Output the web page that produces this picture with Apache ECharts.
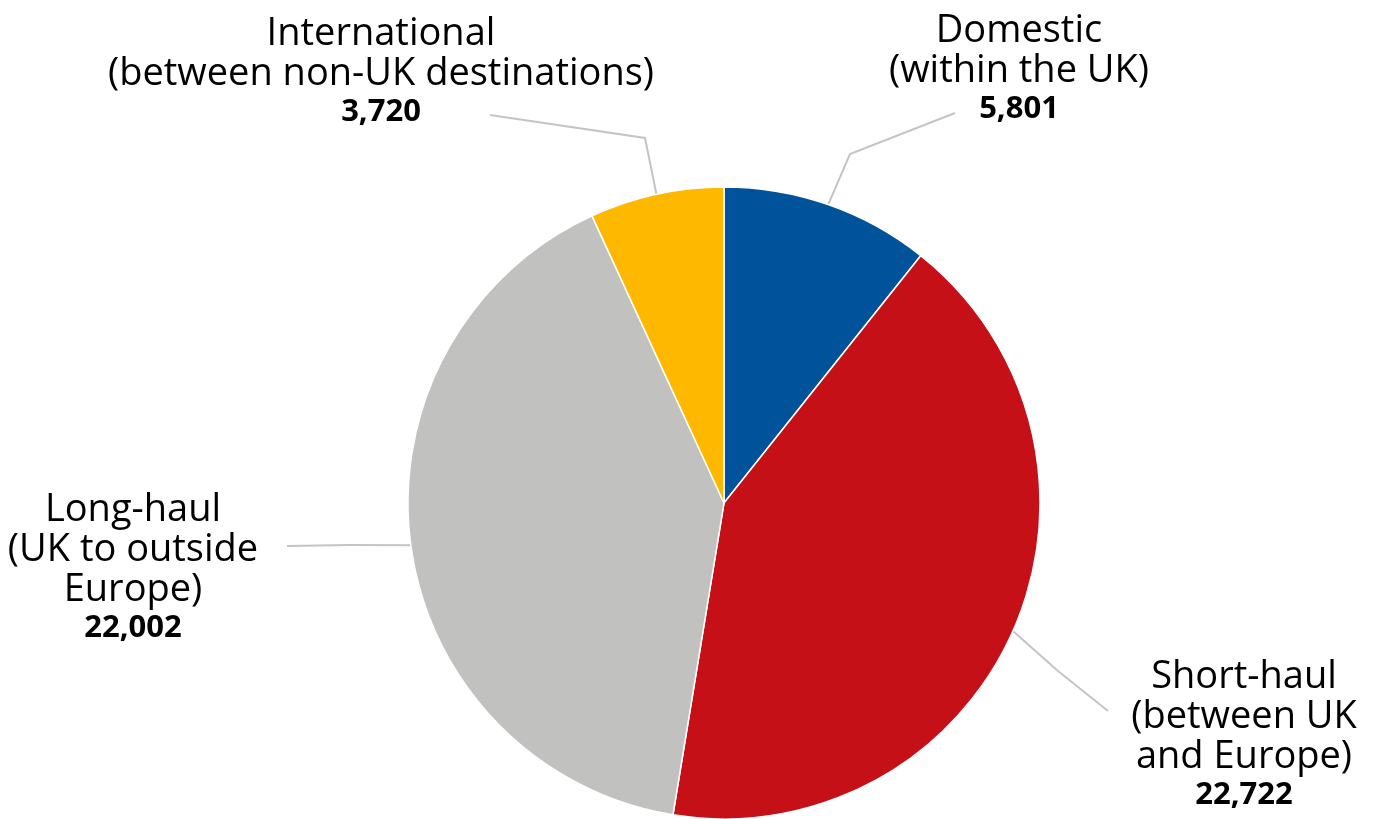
<!DOCTYPE html>
<html>
<head>
<meta charset="utf-8">
<script src="https://cdn.jsdelivr.net/npm/echarts@6/dist/echarts.min.js"></script>
<style>
  html, body { margin: 0; padding: 0; background: #fff; }
  #chart { width: 1373px; height: 819px; }
</style>
</head>
<body>
<div id="chart"></div>
<script>
// flight categories, clockwise from 12 o'clock
var names = ['Domestic', 'Short-haul', 'Long-haul', 'International'];
var subtitles = ['(within the UK)', '(between UK\nand Europe)', '(UK to outside\nEurope)', '(between non-UK destinations)'];
var values = [5801, 22722, 22002, 3720];
var colors = ['#00529b', '#c41016', '#c1c1c0', '#ffb800'];

// label placement (text block centre-x / top-y) and elbow points of the leader lines
var labelAnchor = [[1019, 11], [1244, 657], [133, 490], [381, 14]];
var lineElbow = [[[850, 154], [955, 113]], [[1058, 671], [1108, 711]], [[350, 545], [287, 546]], [[645, 138], [490, 115]]];

var myChart = echarts.init(document.getElementById('chart'));

var pieData = names.map(function (n, i) {
    return {
        name: n,
        value: values[i],
        itemStyle: { color: colors[i] }
    };
});

myChart.setOption({
    animation: false,
    textStyle: { fontFamily: 'Open Sans' },
    series: [{
        type: 'pie',
        center: [724, 503],
        radius: 316,
        startAngle: 90,
        clockwise: true,
        data: pieData,
        itemStyle: { borderColor: '#fff', borderWidth: 1.5 },
        label: {
            show: true,
            position: 'outside',
            align: 'center',
            formatter: function (p) {
                var sub = subtitles[p.dataIndex].split('\n').map(function (s) { return '{n|' + s + '}'; }).join('\n');
                return '{n|' + p.name + '}\n' + sub + '\n{v|' + p.value.toLocaleString('en-GB') + '}';
            },
            rich: {
                n: { fontSize: 38, lineHeight: 40, color: '#000', fontFamily: 'Open Sans' },
                v: { fontSize: 31, lineHeight: 36, color: '#000', fontWeight: 'bold', fontFamily: 'Open Sans' }
            }
        },
        labelLine: {
            show: true,
            length: 20,
            length2: 20,
            lineStyle: { color: '#c4c4c4', width: 2 }
        },
        labelLayout: function (params) {
            var i = params.dataIndex;
            var start = params.labelLinePoints ? params.labelLinePoints[0] : [0, 0];
            return {
                x: labelAnchor[i][0],
                y: labelAnchor[i][1],
                align: 'center',
                verticalAlign: 'top',
                labelLinePoints: [start, lineElbow[i][0], lineElbow[i][1]]
            };
        }
    }]
});
</script>
</body>
</html>
